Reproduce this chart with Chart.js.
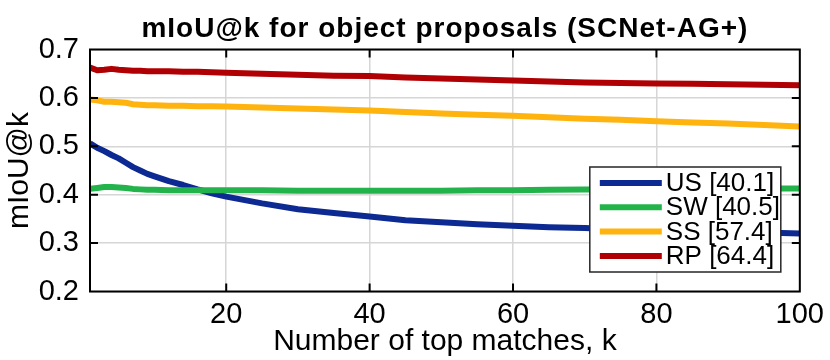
<!DOCTYPE html>
<html><head><meta charset="utf-8">
<script src="https://cdn.jsdelivr.net/npm/chart.js@4"></script>
<style>html,body{margin:0;padding:0;background:#fff}#wrap{width:830px;height:360px}</style>
</head><body><div id="wrap"><canvas id="c" width="830" height="360"></canvas></div>
<script>
// ---- data ----
const kValues  = [1,2,3,4,5,6,7,8,9,10,12,14,16,18,20,25,30,35,40,45,50,55,60,65,70,75,80,85,90,95,100];
const usValues = [0.506,0.497,0.490,0.482,0.475,0.466,0.457,0.450,0.443,0.438,0.428,0.420,0.411,0.403,0.396,0.382,0.370,0.362,0.355,0.347,0.343,0.339,0.336,0.333,0.331,0.328,0.326,0.324,0.323,0.322,0.320];
const swValues = [0.412,0.414,0.416,0.416,0.415,0.414,0.412,0.411,0.410,0.410,0.409,0.409,0.409,0.409,0.409,0.409,0.408,0.408,0.408,0.408,0.408,0.409,0.409,0.410,0.411,0.411,0.412,0.412,0.413,0.413,0.413];
const ssValues = [0.597,0.595,0.592,0.592,0.591,0.590,0.587,0.586,0.585,0.585,0.584,0.584,0.583,0.583,0.582,0.580,0.578,0.576,0.574,0.571,0.568,0.565,0.563,0.560,0.557,0.555,0.552,0.549,0.547,0.544,0.541];
const rpValues = [0.663,0.657,0.658,0.660,0.658,0.657,0.656,0.656,0.655,0.655,0.655,0.654,0.654,0.653,0.652,0.650,0.648,0.646,0.645,0.642,0.640,0.638,0.636,0.634,0.632,0.631,0.630,0.629,0.628,0.627,0.626];
const seriesLabels = ['US [40.1]','SW [40.5]','SS [57.4]','RP [64.4]'];
const seriesColors = ['#0c2a92','#22b34b','#ffb30e','#b10004'];
const xTickValues = [20,40,60,80,100];
const yTickValues = [0.2,0.3,0.4,0.5,0.6,0.7];
const chartTitle = 'mIoU@k for object proposals (SCNet-AG+)';
const xTitle = 'Number of top matches, k';
const yTitle = 'mIoU@k';

const FONT = "'Liberation Sans', Arial, Helvetica, sans-serif";
const seriesValues = [usValues, swValues, ssValues, rpValues];

const datasets = seriesValues.map((vals, i) => ({
  label: seriesLabels[i],
  data: kValues.map((k, j) => ({x: k, y: vals[j]})),
  borderColor: seriesColors[i],
  backgroundColor: seriesColors[i],
  borderWidth: 6,
  pointRadius: 0,
  tension: 0,
  fill: false,
  borderCapStyle: 'butt',
  borderJoinStyle: 'round',
  order: 3 - i
}));

const matlabPlugin = {
  id: 'matlabBox',
  afterDraw(chart) {
    const {ctx, chartArea: a, scales: {x, y}} = chart;
    ctx.save();
    // box
    ctx.strokeStyle = '#000';
    ctx.lineWidth = 2;
    ctx.strokeRect(a.left, a.top, a.right - a.left, a.bottom - a.top);
    // inside ticks
    const tl = 8;
    ctx.beginPath();
    xTickValues.forEach(v => {
      const px = x.getPixelForValue(v);
      if (px >= a.right - 1) return;
      ctx.moveTo(px, a.bottom); ctx.lineTo(px, a.bottom - tl);
      ctx.moveTo(px, a.top); ctx.lineTo(px, a.top + tl);
    });
    yTickValues.forEach(v => {
      const py = y.getPixelForValue(v);
      if (py <= a.top + 1 || py >= a.bottom - 1) return;
      ctx.moveTo(a.left, py); ctx.lineTo(a.left + tl, py);
      ctx.moveTo(a.right, py); ctx.lineTo(a.right - tl, py);
    });
    ctx.stroke();
    // title
    ctx.fillStyle = '#000';
    ctx.font = "bold 28px " + FONT;
    if ('letterSpacing' in ctx) ctx.letterSpacing = '1px';
    ctx.textAlign = 'center';
    ctx.textBaseline = 'alphabetic';
    ctx.fillText(chartTitle, (a.left + a.right) / 2, 37);
    if ('letterSpacing' in ctx) ctx.letterSpacing = '0px';
    // legend
    const lw = 191, lh = 105;
    const lx = a.right - 19 - lw, ly = a.bottom - 19.5 - lh;
    ctx.fillStyle = '#fff';
    ctx.fillRect(lx, ly, lw, lh);
    ctx.strokeStyle = '#262626';
    ctx.lineWidth = 1.5;
    ctx.strokeRect(lx, ly, lw, lh);
    ctx.font = "26px " + FONT;
    ctx.textAlign = 'left';
    ctx.textBaseline = 'middle';
    chart.data.datasets.forEach((ds, i) => {
      const ry = ly + 16 + i * 24.3;
      ctx.strokeStyle = ds.borderColor;
      ctx.lineWidth = 6;
      ctx.beginPath();
      ctx.moveTo(lx + 10, ry); ctx.lineTo(lx + 72, ry);
      ctx.stroke();
      ctx.fillStyle = '#000';
      ctx.fillText(ds.label, lx + 76, ry + 1);
    });
    ctx.restore();
  }
};

new Chart(document.getElementById('c'), {
  type: 'line',
  data: {datasets},
  plugins: [matlabPlugin],
  options: {
    responsive: false,
    animation: false,
    devicePixelRatio: 1,
    layout: {padding: {top: 49.5, right: 27, left: 0, bottom: 0}},
    plugins: {legend: {display: false}, title: {display: false}, tooltip: {enabled: false}},
    scales: {
      x: {
        type: 'linear', min: 1, max: 100,
        afterBuildTicks(s) { s.ticks = xTickValues.map(v => ({value: v})); },
        afterFit(s) { s.height = 68.5; },
        grid: {color: '#d6d6d6', lineWidth: 1.5, drawTicks: false},
        border: {display: false},
        ticks: {color: '#000', font: {family: FONT, size: 29}, padding: 6, maxRotation: 0, autoSkip: false},
        title: {display: true, text: xTitle, color: '#000', font: {family: FONT, size: 30}, padding: {top: 0, bottom: 0}}
      },
      y: {
        type: 'linear', min: 0.2, max: 0.7,
        afterBuildTicks(s) { s.ticks = yTickValues.map(v => ({value: v})); },
        afterFit(s) { s.width = 90; },
        grid: {color: '#d6d6d6', lineWidth: 1.5, drawTicks: false},
        border: {display: false},
        ticks: {color: '#000', font: {family: FONT, size: 29}, padding: 11, callback: v => v.toFixed(1)},
        title: {display: true, text: yTitle, color: '#000', font: {family: FONT, size: 30}, padding: {top: 2, bottom: 0}}
      }
    }
  }
});
</script>
</body></html>
